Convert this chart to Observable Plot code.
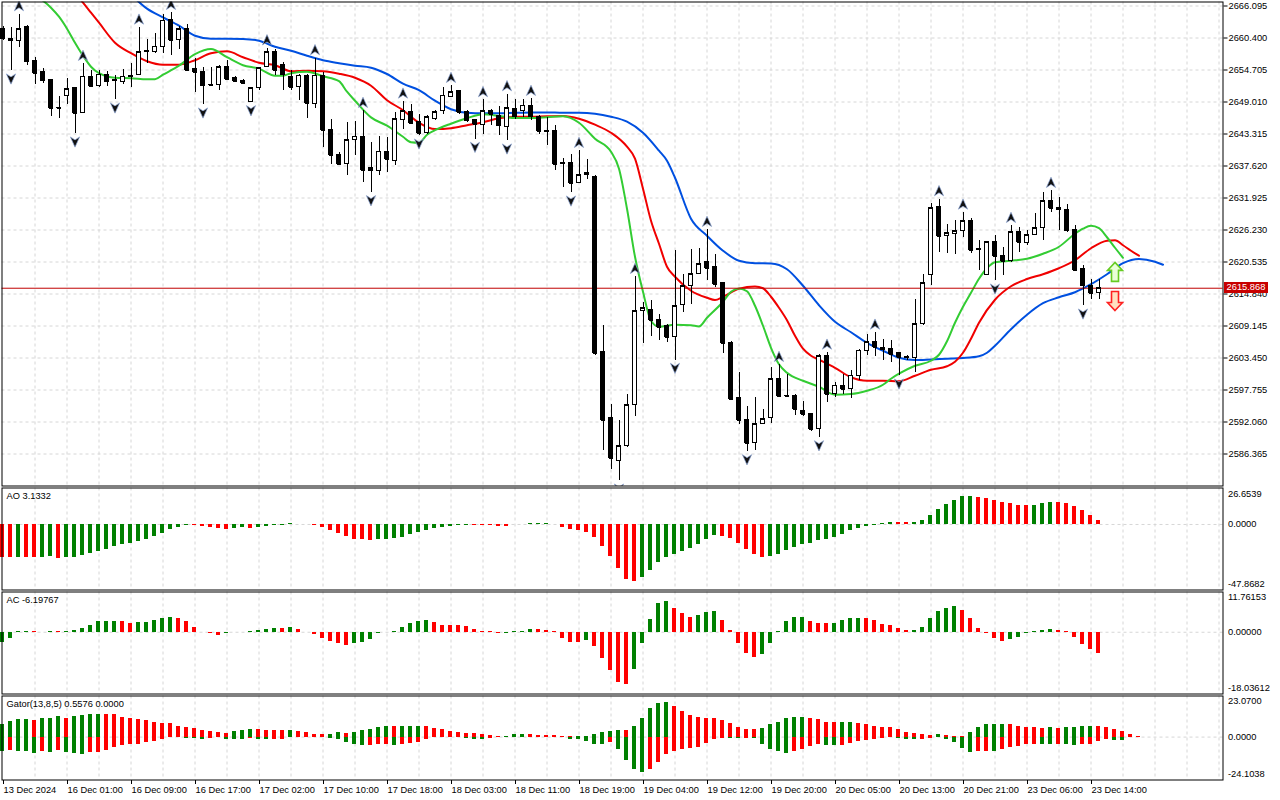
<!DOCTYPE html>
<html><head><meta charset="utf-8">
<script src="https://cdn.jsdelivr.net/npm/d3@7"></script>
<script src="https://cdn.jsdelivr.net/npm/@observablehq/plot@0.6"></script>
<style>
html,body{margin:0;padding:0;background:#fff;}
#chart{position:relative;width:1280px;height:800px;overflow:hidden;background:#fff;font-family:"Liberation Sans",Arial,sans-serif;}
#chart svg{position:absolute;left:0;}
#plabel{position:absolute;left:1224px;width:44px;height:11px;background:#c80000;color:#fff;font-size:9.3px;line-height:11px;text-align:center;font-family:"Liberation Sans",Arial,sans-serif;}
</style></head><body><div id="chart"></div>
<script>
// ---------- candles (XAUUSD H1) ----------
const open = [2662.06,2660.22,2659.92,2662.29,2656.36,2654.28,2652.98,2647.99,2650.01,2651.43,2646.98,2653.39,2651.79,2653.87,2652.85,2652.62,2653.51,2653.81,2657.84,2657.84,2658.85,2663.60,2660.04,2662.00,2654.88,2654.40,2652.09,2652.03,2655.29,2653.28,2652.80,2649.06,2651.50,2655.29,2657.96,2655.65,2653.51,2651.61,2653.69,2648.65,2653.69,2644.02,2639.57,2637.97,2642.30,2642.83,2637.19,2636.78,2640.16,2638.56,2645.80,2647.28,2645.50,2643.42,2645.98,2647.46,2649.95,2650.90,2647.16,2645.80,2644.97,2647.34,2646.57,2644.49,2647.76,2647.46,2648.35,2646.39,2643.83,2643.90,2638.12,2638.15,2634.59,2636.01,2635.71,2604.56,2592.76,2585.16,2587.71,2595.08,2611.74,2611.99,2610.21,2609.07,2607.11,2612.93,2616.19,2618.39,2620.46,2619.57,2616.72,2606.16,2596.32,2592.46,2588.24,2591.69,2592.76,2599.70,2596.73,2596.68,2594.06,2593.47,2590.80,2603.85,2597.03,2598.46,2597.85,2600.29,2604.74,2606.22,2605.15,2605.04,2604.26,2603.58,2603.44,2609.49,2618.22,2630.25,2625.21,2625.51,2625.98,2627.88,2622.83,2618.27,2624.14,2621.53,2620.64,2625.80,2623.91,2625.39,2626.58,2631.32,2630.14,2629.79,2626.23,2619.28,2616.31,2615.01];
const high = [2662.41,2662.29,2664.67,2662.59,2656.95,2654.94,2653.10,2649.95,2653.16,2651.60,2655.83,2654.58,2654.58,2654.46,2653.69,2654.76,2655.83,2662.29,2660.10,2661.17,2664.67,2664.90,2662.41,2662.89,2656.72,2655.17,2655.17,2655.47,2656.36,2653.51,2652.93,2651.55,2655.17,2658.60,2658.40,2656.06,2654.58,2653.87,2653.99,2656.84,2654.28,2645.98,2639.98,2645.38,2645.50,2647.46,2641.82,2642.83,2642.71,2647.16,2649.12,2648.65,2646.87,2646.57,2647.46,2651.61,2651.91,2651.02,2647.46,2645.98,2649.37,2647.59,2648.17,2650.43,2649.37,2649.37,2649.60,2646.57,2646.27,2644.79,2638.92,2639.75,2640.34,2638.86,2635.89,2609.19,2595.25,2592.28,2597.03,2617.91,2613.34,2613.64,2611.27,2609.49,2622.54,2618.39,2622.84,2622.95,2626.28,2621.95,2616.90,2606.34,2600.88,2594.77,2596.43,2594.36,2601.77,2602.25,2600.59,2597.03,2595.72,2593.58,2604.03,2604.44,2599.10,2600.59,2601.18,2605.04,2607.71,2608.00,2606.82,2606.52,2604.44,2603.85,2613.94,2618.27,2631.03,2631.74,2627.29,2627.88,2629.36,2628.24,2624.32,2624.20,2625.34,2623.13,2626.99,2626.69,2626.10,2629.18,2632.92,2633.22,2632.03,2630.73,2626.99,2619.87,2617.50,2617.50];
const low = [2659.92,2654.58,2658.73,2655.47,2652.21,2652.27,2646.39,2646.04,2648.53,2643.37,2646.93,2651.70,2651.55,2651.79,2649.42,2652.09,2651.61,2653.69,2655.83,2657.66,2657.66,2657.25,2658.44,2654.58,2650.72,2648.53,2651.91,2651.02,2652.80,2652.50,2652.21,2648.94,2651.02,2655.17,2653.69,2651.14,2651.14,2649.24,2646.16,2647.94,2640.93,2637.97,2637.67,2636.01,2639.57,2634.70,2632.92,2635.89,2636.48,2637.67,2644.20,2645.09,2643.01,2643.28,2645.80,2646.87,2649.83,2646.87,2645.38,2642.42,2643.31,2644.79,2643.01,2642.12,2645.98,2646.27,2645.80,2643.19,2641.23,2636.90,2633.75,2632.86,2634.47,2635.30,2603.85,2587.07,2583.68,2581.60,2587.47,2592.99,2606.04,2607.23,2606.52,2606.22,2603.09,2611.56,2612.93,2618.27,2617.20,2616.01,2604.26,2595.93,2591.69,2586.82,2586.94,2591.57,2591.80,2596.55,2596.55,2593.17,2593.12,2590.38,2589.31,2595.54,2596.43,2597.03,2596.32,2599.40,2603.85,2603.67,2602.96,2602.66,2600.29,2602.96,2600.88,2609.19,2616.31,2622.24,2622.06,2621.95,2624.91,2622.06,2619.11,2618.09,2617.20,2618.09,2620.46,2622.24,2623.43,2625.21,2624.32,2629.36,2626.10,2625.80,2618.98,2612.75,2613.94,2613.94];
const close = [2660.28,2659.92,2662.00,2656.18,2654.10,2652.80,2647.87,2647.87,2651.32,2646.98,2653.51,2651.79,2653.87,2652.62,2652.75,2653.51,2653.64,2657.84,2658.14,2658.85,2663.48,2660.04,2662.00,2654.70,2654.28,2651.91,2651.98,2655.17,2653.10,2652.68,2652.39,2651.50,2654.99,2657.84,2654.70,2653.87,2651.61,2653.69,2648.76,2653.69,2644.02,2639.57,2637.97,2642.24,2642.83,2636.90,2636.78,2640.16,2638.86,2645.98,2647.34,2645.20,2643.42,2646.27,2647.16,2650.13,2650.72,2647.16,2645.68,2645.09,2647.34,2646.87,2644.79,2647.94,2646.39,2648.35,2646.39,2643.78,2643.74,2637.97,2638.03,2634.59,2636.01,2636.37,2604.26,2592.40,2585.64,2587.71,2595.08,2611.74,2612.27,2610.21,2608.89,2607.11,2612.63,2616.19,2618.39,2620.17,2619.46,2616.61,2606.04,2596.07,2592.40,2588.24,2591.69,2592.58,2599.70,2596.68,2596.62,2594.36,2593.47,2590.80,2603.80,2597.03,2598.51,2597.85,2600.29,2604.74,2606.22,2605.33,2604.92,2604.15,2603.55,2603.49,2609.49,2616.79,2630.14,2625.09,2625.62,2625.98,2627.76,2622.67,2622.72,2624.02,2621.53,2620.64,2625.80,2624.02,2625.34,2626.58,2631.32,2630.14,2629.79,2626.10,2619.11,2616.31,2615.01,2615.868];
const lastPrice = 2615.868;

// ---------- Alligator (bar, value) ----------
const jaw = [[16,2668.11],[18,2665.62],[20,2664.07],[22,2662.59],[24,2660.81],[26,2660.28],[28,2660.28],[30,2660.24],[32,2659.92],[34,2658.85],[36,2658.14],[38,2657.25],[40,2656.45],[42,2655.92],[44,2655.47],[46,2655.11],[48,2653.99],[50,2652.27],[52,2651.11],[54,2649.24],[56,2647.73],[58,2647.10],[60,2647.01],[62,2647.01],[64,2647.10],[66,2647.16],[68,2647.16],[70,2647.10],[72,2647.10],[74,2646.93],[76,2646.39],[78,2645.50],[80,2643.54],[82,2640.34],[83,2638.56],[84,2635.53],[86,2628.24],[88,2625.21],[90,2622.54],[92,2620.76],[94,2620.32],[96,2620.28],[98,2619.25],[100,2616.31],[102,2612.84],[104,2609.90],[106,2608.03],[108,2606.16],[110,2604.74],[112,2603.49],[114,2603.08],[116,2603.19],[118,2603.32],[120,2603.44],[122,2603.76],[123,2604.38],[124,2605.63],[126,2608.57],[128,2611.15],[130,2613.20],[132,2614.26],[134,2615.15],[136,2616.58],[138,2618.36],[140,2620.32],[142,2621.06],[144,2620.58],[145,2620.05]];
const teeth = [[9,2668.40],[10,2666.68],[11,2664.90],[12,2663.12],[14,2659.56],[16,2657.69],[18,2656.27],[20,2655.65],[22,2655.65],[24,2656.45],[26,2657.69],[28,2658.02],[30,2656.98],[32,2656.00],[34,2655.56],[36,2654.49],[38,2654.58],[40,2654.49],[42,2654.05],[44,2653.33],[46,2651.91],[48,2649.33],[50,2647.55],[52,2645.32],[54,2644.20],[56,2644.35],[58,2644.88],[60,2645.41],[62,2646.13],[64,2646.39],[66,2646.39],[68,2646.48],[70,2646.52],[72,2646.04],[74,2644.97],[76,2643.54],[78,2641.05],[79,2638.92],[80,2633.58],[81,2627.88],[82,2623.79],[83,2619.69],[84,2617.91],[86,2615.42],[88,2614.17],[89,2613.76],[90,2614.35],[92,2615.78],[94,2616.19],[95,2615.87],[96,2614.35],[97,2612.39],[98,2610.17],[99,2607.41],[100,2605.10],[101,2603.85],[102,2603.14],[104,2601.71],[106,2600.02],[108,2599.40],[110,2599.40],[112,2599.31],[114,2600.29],[116,2601.36],[118,2601.98],[119,2602.78],[120,2604.38],[121,2606.88],[122,2609.72],[124,2613.82],[126,2616.22],[128,2617.50],[130,2618.36],[132,2619.43],[134,2620.85],[136,2622.98],[138,2624.32],[139,2624.41],[140,2623.52],[141,2622.54],[142,2621.65]];
const lips = [[4,2668.11],[6,2665.79],[7,2664.19],[8,2662.06],[9,2659.56],[10,2657.25],[11,2655.29],[12,2654.14],[14,2653.33],[16,2653.25],[18,2653.07],[19,2653.07],[20,2653.87],[22,2655.47],[24,2657.52],[26,2658.44],[28,2656.98],[30,2655.56],[32,2654.94],[34,2653.69],[35,2653.69],[36,2654.14],[38,2654.40],[40,2653.60],[42,2652.71],[43,2650.84],[44,2649.24],[46,2646.27],[48,2644.79],[50,2642.83],[51,2641.85],[52,2641.76],[53,2643.19],[54,2643.99],[56,2645.15],[58,2646.13],[60,2646.84],[62,2646.52],[64,2646.16],[66,2646.16],[68,2646.30],[70,2646.48],[72,2645.32],[74,2642.48],[76,2640.16],[77,2637.14],[78,2630.02],[79,2621.47],[80,2615.24],[81,2610.08],[82,2609.01],[84,2609.37],[86,2609.28],[87,2609.07],[88,2610.61],[90,2613.46],[91,2615.24],[92,2615.83],[93,2615.33],[94,2612.75],[95,2609.19],[96,2605.27],[97,2602.34],[98,2600.82],[100,2599.40],[102,2598.33],[104,2596.91],[106,2597.03],[108,2597.62],[110,2598.69],[111,2599.76],[112,2600.65],[114,2602.07],[116,2602.96],[117,2604.03],[118,2606.43],[119,2609.72],[120,2612.57],[121,2615.06],[122,2617.56],[123,2619.43],[124,2620.49],[126,2620.76],[128,2621.12],[130,2622.01],[132,2623.25],[134,2625.57],[135,2626.46],[136,2626.99],[137,2626.55],[138,2624.94],[139,2623.07],[140,2621.29]];

// ---------- Fractals & signals ----------
const upFractals = [2,10,17,21,33,39,45,50,56,60,63,66,72,79,88,97,103,109,117,120,126,131];
const downFractals = [1,9,14,25,31,46,52,59,63,71,77,84,93,102,112,124,135];
const signalBars = [139, 139];
const signalPrices = [2618.77, 2613.59];
const signalDirs = ["up", "down"];

// ---------- Oscillators ----------
const aoBefore = -23.9;
const ao = [-24.0,-24.05,-23.9,-24.0,-24.1,-24.0,-23.5,-24.8,-24.0,-23.9,-22.8,-21.1,-19.4,-18.1,-16.2,-14.4,-13.7,-12.5,-10.8,-8.8,-6.3,-3.4,-1.9,-0.5,-0.9,-1.5,-2.0,-3.3,-3.5,-2.7,-2.5,-2.7,-2.0,-1.5,-1.0,-0.7,0.5,-0.1,-0.3,-0.8,-2.5,-4.4,-6.3,-8.8,-10.8,-11.2,-11.5,-11.3,-10.9,-10.6,-9.3,-7.1,-5.6,-4.1,-2.6,-1.9,-1.4,-0.7,-0.4,-0.6,-0.8,-0.9,-1.2,-1.3,-0.2,0.2,0.6,0.8,0.9,-0.2,-1.9,-3.4,-4.6,-5.6,-9.3,-16.2,-23.5,-32.1,-40.2,-42.0,-38.8,-33.9,-28.0,-24.3,-21.8,-19.8,-17.4,-14.4,-10.7,-8.0,-8.8,-10.0,-13.7,-18.2,-21.8,-24.0,-23.5,-21.8,-18.9,-16.9,-14.4,-13.7,-12.0,-10.7,-9.3,-7.1,-4.6,-2.6,-1.2,-0.4,0.8,1.5,1.4,1.3,1.5,3.2,6.7,11.1,14.8,17.8,20.7,20.8,20.0,18.8,17.8,15.8,15.1,14.1,14.0,14.1,15.1,15.8,15.7,15.1,13.4,10.4,6.7,3.1332];
const acBefore = -3.5;
const ac = [-2.9,-1.7,0.1,0.15,0.1,0.05,0.15,0.1,0.2,0.4,1.0,2.0,3.0,3.05,3.2,3.0,2.7,2.9,2.95,3.5,4.1,4.4,4.1,3.2,1.5,-0.2,-0.3,-1.0,-0.5,-0.1,0.05,0.1,0.5,0.9,1.1,1.05,1.4,0.7,-0.05,-0.8,-1.7,-2.8,-3.2,-3.9,-3.4,-2.9,-2.0,-0.5,-0.1,0.2,1.4,2.7,3.2,3.3,2.9,2.0,1.95,1.9,1.7,0.8,0.2,0.1,-0.4,-0.3,0.1,0.3,0.8,0.75,0.5,0.1,-1.7,-2.9,-3.0,-2.5,-4.2,-7.6,-11.3,-14.7,-15.3,-10.9,-3.2,3.7,8.3,9.1,7.0,5.6,4.4,5.0,5.9,5.95,3.5,0.6,-3.2,-6.1,-7.3,-6.4,-3.2,0.2,3.2,4.4,4.45,3.2,2.7,2.65,2.7,3.5,4.1,4.15,3.9,3.5,2.4,2.0,1.0,0.4,0.45,1.4,3.9,6.2,7.0,7.4,6.4,3.9,1.0,-0.3,-1.7,-2.6,-2.0,-1.5,-0.4,0.1,0.4,0.8,0.6,0.1,-1.4,-3.5,-5.1,-6.19767];
const gatorUpBefore = 6.5;
const gatorUp = [6.8,8.7,9.6,9.65,9.5,10.2,10.7,11.5,10.7,11.5,12.0,12.6,12.65,12.5,12.4,11.1,10.5,9.6,9.2,8.3,7.9,7.4,6.2,5.5,4.7,3.6,3.0,2.3,2.2,3.0,3.6,4.2,4.1,3.6,3.55,3.5,3.6,3.2,2.8,1.7,1.6,1.7,2.3,2.25,2.4,3.6,4.2,5.3,5.9,5.8,5.85,5.9,5.95,5.9,4.9,4.2,3.0,2.3,2.2,2.1,1.7,1.0,0.5,0.55,1.2,1.25,1.2,1.15,0.8,0.75,0.4,0.1,0.3,0.5,1.3,2.3,3.4,3.8,3.6,5.7,10.2,15.8,18.6,19.2,16.9,14.3,12.0,11.1,10.7,10.2,9.2,7.4,5.5,4.5,4.0,4.55,6.8,8.3,10.2,11.1,11.15,10.5,9.6,8.3,8.2,8.3,8.35,7.4,6.8,6.0,5.5,5.1,4.0,2.7,2.1,1.4,1.0,1.2,1.0,0.4,0.15,2.7,5.1,6.8,6.85,6.9,6.8,5.9,5.5,5.1,5.05,5.1,5.05,5.5,5.55,5.9,6.2,6.0,5.5,4.5,2.9,1.7,0.5576];
const gatorDownBefore = -7.8;
const gatorDown = [-8.0,-7.6,-8.0,-8.1,-9.5,-8.0,-8.9,-7.6,-8.9,-9.5,-9.6,-8.9,-8.7,-7.6,-5.8,-4.9,-4.0,-3.9,-2.9,-2.6,-1.4,-0.4,-0.1,-0.6,-0.7,-1.2,-0.7,-0.5,-1.3,-1.4,-1.5,-0.7,-1.4,-1.5,-1.4,-1.3,-0.2,-0.4,-0.3,-0.2,-0.5,-0.7,-1.4,-2.8,-3.9,-4.8,-4.7,-4.2,-3.9,-4.8,-4.4,-3.5,-2.9,-1.4,-0.3,-0.2,-0.25,-0.3,-0.7,-1.4,-1.5,-0.7,-0.1,-0.05,-0.1,-0.15,-0.1,-0.05,-0.02,-0.1,-0.3,-1.4,-1.5,-2.6,-3.9,-4.2,-3.3,-6.7,-13.2,-18.4,-20.1,-18.4,-14.4,-9.6,-8.1,-6.7,-6.3,-5.7,-3.5,-1.4,-0.7,-0.75,-0.8,-0.7,-1.0,-4.4,-6.7,-8.2,-9.0,-8.2,-7.1,-5.4,-4.3,-4.8,-4.85,-4.8,-3.5,-2.6,-2.0,-1.1,-0.7,-0.5,-0.7,-1.4,-1.45,-1.1,-0.7,-0.1,-1.4,-3.0,-6.3,-8.6,-8.0,-7.95,-8.1,-6.7,-5.7,-5.4,-4.3,-3.9,-3.95,-4.0,-3.9,-4.4,-4.8,-4.4,-3.9,-2.6,-1.4,-2.0,-2.1];

// ---------- Axis / labels ----------
const priceTicks = [2666.095,2660.400,2654.705,2649.010,2643.315,2637.620,2631.925,2626.230,2620.535,2614.840,2609.145,2603.450,2597.755,2592.060,2586.365];
const aoScale = [26.6539, 0, -47.8682];
const aoScaleLabels = ["26.6539", "0.0000", "-47.8682"];
const acScale = [11.76153, 0, -18.03612];
const acScaleLabels = ["11.76153", "0.00000", "-18.03612"];
const gatorScale = [23.0700, 0, -24.1038];
const gatorScaleLabels = ["23.0700", "0.0000", "-24.1038"];
const panelTitles = ["AO 3.1332", "AC -6.19767", "Gator(13,8,5) 0.5576 0.0000"];
const xLabelBars = [0,8,16,24,32,40,48,56,64,72,80,88,96,104,112,120,128,136];
const xLabels = ["13 Dec 2024","16 Dec 01:00","16 Dec 09:00","16 Dec 17:00","17 Dec 02:00","17 Dec 10:00","17 Dec 18:00","18 Dec 03:00","18 Dec 11:00","18 Dec 19:00","19 Dec 04:00","19 Dec 12:00","19 Dec 20:00","20 Dec 05:00","20 Dec 13:00","20 Dec 21:00","23 Dec 06:00","23 Dec 14:00"];

// ---------- build ----------
const FONT = "Liberation Sans, Arial, sans-serif";
const GREEN = "#008000", RED = "#ff0000";
const GRID = "#d6d6d6";
const xDomain = [-0.125, 152.5];
const gridBars = d3.range(4, 153, 4);
const chart = document.getElementById("chart");

const candles = open.map((o, i) => ({i, o, h: high[i], l: low[i], c: close[i]}));

const upHead = {draw(ctx) {ctx.moveTo(0,-5.5); ctx.lineTo(4.6,4.8); ctx.lineTo(0,1.8); ctx.lineTo(-4.6,4.8); ctx.closePath();}};
const downHead = {draw(ctx) {ctx.moveTo(0,5.5); ctx.lineTo(4.6,-4.8); ctx.lineTo(0,-1.8); ctx.lineTo(-4.6,-4.8); ctx.closePath();}};
const upBlock = {draw(ctx) {ctx.moveTo(0,-9.5); ctx.lineTo(7.5,-1.5); ctx.lineTo(3.5,-1.5); ctx.lineTo(3.5,9.5); ctx.lineTo(-3.5,9.5); ctx.lineTo(-3.5,-1.5); ctx.lineTo(-7.5,-1.5); ctx.closePath();}};
const downBlock = {draw(ctx) {ctx.moveTo(0,9.5); ctx.lineTo(7.5,1.5); ctx.lineTo(3.5,1.5); ctx.lineTo(3.5,-9.5); ctx.lineTo(-3.5,-9.5); ctx.lineTo(-3.5,1.5); ctx.lineTo(-7.5,1.5); ctx.closePath();}};

const signals = signalBars.map((b, k) => ({b, p: signalPrices[k], d: signalDirs[k]}));

function common(height, top, bottom) {
  return {width: 1280, height, marginLeft: 1.5, marginRight: 57.5, marginTop: top, marginBottom: bottom,
    x: {domain: xDomain, axis: null}, color: {type: "identity"},
    style: {fontFamily: FONT, fontSize: "9.3px", background: "none", overflow: "visible", color: "#000"}};
}
function place(svg, top) { svg.style.top = top + "px"; chart.appendChild(svg); return svg; }

// Main price panel
const main = Plot.plot({
  ...common(487, 1.5, 1.5),
  y: {domain: [2580.670, 2666.807], axis: null},
  marks: [
    Plot.ruleX(gridBars, {stroke: GRID, strokeDasharray: "3,3"}),
    Plot.ruleY(priceTicks, {stroke: GRID, strokeDasharray: "3,3"}),
    Plot.line(jaw, {x: d => d[0], y: d => d[1], stroke: "#0050e0", strokeWidth: 2, curve: "monotone-x", clip: true}),
    Plot.line(teeth, {x: d => d[0], y: d => d[1], stroke: "#f00000", strokeWidth: 2, curve: "monotone-x", clip: true}),
    Plot.line(lips, {x: d => d[0], y: d => d[1], stroke: "#33cc33", strokeWidth: 2, curve: "monotone-x", clip: true}),
    Plot.ruleY([lastPrice], {stroke: "#c00000", strokeWidth: 1}),
    Plot.ruleX(candles, {x: "i", y1: "l", y2: "h", stroke: "#000", shapeRendering: "crispEdges"}),
    Plot.rect(candles, {x1: d => d.i - 0.25, x2: d => d.i + 0.25, y1: "o", y2: "c",
      fill: d => d.c >= d.o ? "#fff" : "#000", stroke: "#000", shapeRendering: "crispEdges"}),
    Plot.ruleY(candles, {y: "c", x1: d => d.i - 0.25, x2: d => d.i + 0.25, stroke: "#000", shapeRendering: "crispEdges"}),
    Plot.dot(upFractals, {x: d => d, y: d => high[d], symbol: upHead, r: 5, dy: -8, fill: "#111", stroke: "#8ea6d6", strokeWidth: 0.7, clip: true}),
    Plot.dot(downFractals, {x: d => d, y: d => low[d], symbol: downHead, r: 5, dy: 8, fill: "#111", stroke: "#8ea6d6", strokeWidth: 0.7, clip: true}),
    Plot.dot(signals.filter(s => s.d === "up"), {x: "b", y: "p", symbol: upBlock, r: 8, fill: "#eaffd8", stroke: "#66cc22", strokeWidth: 1.6}),
    Plot.dot(signals.filter(s => s.d === "down"), {x: "b", y: "p", symbol: downBlock, r: 8, fill: "#ffe0c0", stroke: "#ff2020", strokeWidth: 1.6}),
    Plot.frame({stroke: "#000"}),
    Plot.axisY(priceTicks, {anchor: "right", tickSize: 4, tickPadding: 1.5, tickFormat: d => d.toFixed(3), fontSize: 9.3})
  ]
});
place(main, 0);

function colorize(vals, before, useAbs) {
  return vals.map((v, i) => {
    const p = i === 0 ? before : vals[i - 1];
    const up = useAbs ? Math.abs(v) > Math.abs(p) : v > p;
    return {i, v, color: up ? GREEN : RED};
  });
}

function subPanel(top, height, bottom, domain, series, scaleVals, scaleLabels, title, topDy, botDy, extra = []) {
  const marks = [
    Plot.ruleX(gridBars, {stroke: GRID, strokeDasharray: "3,3"}),
    Plot.ruleY([0], {stroke: GRID, strokeDasharray: "3,3"}),
  ];
  for (const s of series) {
    marks.push(Plot.rect(s, {x1: d => d.i - 0.3125, x2: d => d.i + 0.1875, y1: 0, y2: "v", fill: "color", shapeRendering: "crispEdges"}));
  }
  marks.push(
    Plot.frame({stroke: "#000"}),
    Plot.text([scaleLabels[0]], {frameAnchor: "top-right", dx: 5, dy: topDy, textAnchor: "start", lineAnchor: "middle", text: d => d, fill: "#000"}),
    Plot.text([scaleVals[1]], {y: d => d, frameAnchor: "right", dx: 5, dy: -0.5, textAnchor: "start", lineAnchor: "middle", text: () => scaleLabels[1], fill: "#000"}),
    Plot.text([scaleLabels[2]], {frameAnchor: "bottom-right", dx: 5, dy: botDy, textAnchor: "start", lineAnchor: "middle", text: d => d, fill: "#000"}),
    Plot.text([title], {frameAnchor: "top-left", dx: 4.5, dy: 4, textAnchor: "start", lineAnchor: "top", text: d => d, fill: "#000"}),
    ...extra
  );
  const svg = Plot.plot({...common(height, 1.5, bottom), y: {domain: [scaleVals[2], scaleVals[0]], axis: null}, marks});
  return place(svg, top);
}

subPanel(486, 105, 1.5, null, [colorize(ao, aoBefore, false)], aoScale, aoScaleLabels, panelTitles[0], 6, -5.5);
subPanel(590, 105, 1.5, null, [colorize(ac, acBefore, false)], acScale, acScaleLabels, panelTitles[1], 5.5, -5.5);
subPanel(694, 106, 20.5, null,
  [colorize(gatorUp, gatorUpBefore, true), colorize(gatorDown, gatorDownBefore, true)],
  gatorScale, gatorScaleLabels, panelTitles[2], 5, -6,
  [Plot.axisX(xLabelBars, {anchor: "bottom", tickSize: 4, tickPadding: 2.5, textAnchor: "start", dx: 0.5,
     tickFormat: d => xLabels[xLabelBars.indexOf(d)], fontSize: 9.3, shapeRendering: "crispEdges"})]);

// price label on the right axis, positioned with the main y scale
const yPx = main.scale("y").apply(lastPrice);
const lab = document.createElement("div");
lab.id = "plabel";
lab.textContent = lastPrice.toFixed(3);
lab.style.top = (yPx - 6) + "px";
chart.appendChild(lab);
</script>
</body></html>
